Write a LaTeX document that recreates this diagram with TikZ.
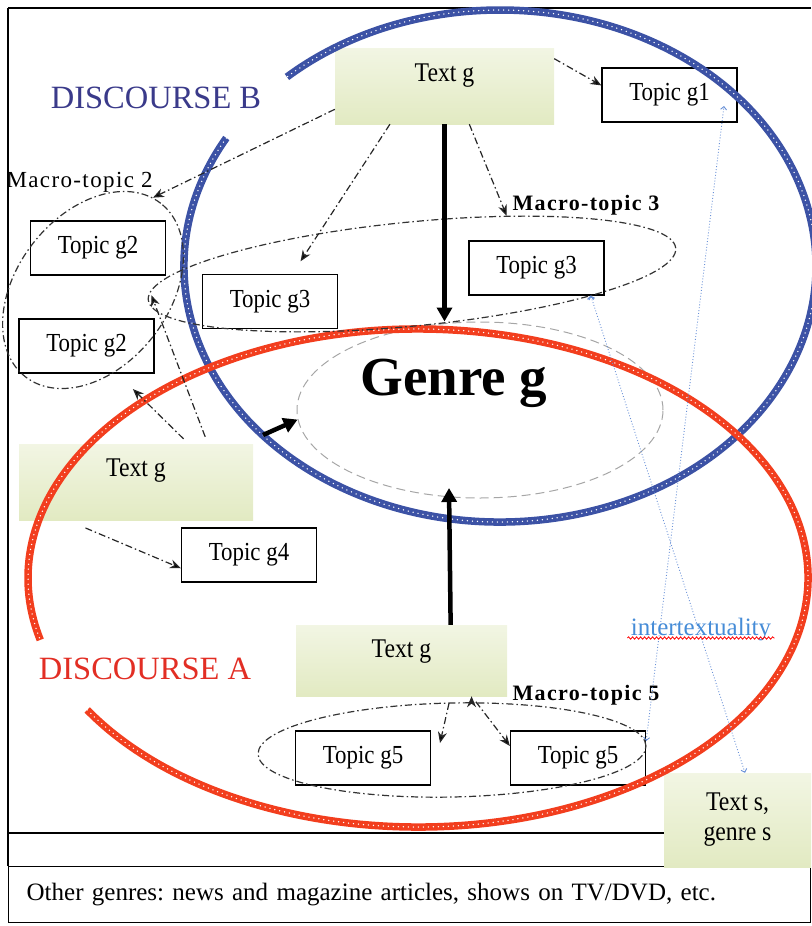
\documentclass[tikz,border=0pt]{standalone}
\usepackage{fontspec}
\setmainfont{Liberation Serif}
\newfontfamily\boxfont[FakeStretch=0.88]{Liberation Serif}
\newfontfamily\macrofont[LetterSpace=6]{Liberation Serif}
\usepackage{tikz}
\usetikzlibrary{arrows.meta,shapes.geometric,decorations.pathmorphing}
\frenchspacing

\definecolor{discB}{RGB}{58,58,138}
\definecolor{discA}{RGB}{226,46,36}
\definecolor{ringB}{RGB}{60,82,165}
\definecolor{ringA}{RGB}{242,62,30}
\definecolor{boxgreen}{RGB}{226,234,194}
\definecolor{linkblue}{RGB}{105,145,215}
\definecolor{itxblue}{RGB}{70,140,215}

\begin{document}
\begin{tikzpicture}[x=1pt,y=-1pt,>={Stealth[length=11pt,width=9pt]},
    ring/.style={line width=7.5pt, draw=#1,
      postaction={draw=white, line width=1.5pt, line cap=round, dash pattern=on 0pt off 5pt}},
    textbox/.style={top color=boxgreen!45, bottom color=boxgreen, inner sep=0pt,
      font=\boxfont\fontsize{27}{30}\selectfont},
    topic/.style={draw, fill=white, line width=1.3pt, inner sep=0pt,
      minimum width=135pt, minimum height=54pt, font=\boxfont\fontsize{26}{30}\selectfont},
    macro/.style={ellipse, draw=black!80, line width=1.2pt, inner sep=0pt,
      dash pattern=on 7pt off 3pt on 1.5pt off 3pt},
    dd/.style={draw=black!85, line width=1.2pt, dash pattern=on 7pt off 3pt on 1.5pt off 3pt},
    bigarrow/.style={line width=4.5pt, -{Triangle[length=14pt,width=15pt]}},
    link/.style={draw=linkblue, line width=0.9pt, dotted,
      {Straight Barb[length=3pt,width=6pt]}-{Straight Barb[length=3pt,width=6pt]}},
    frame/.style={line width=1.3pt}]
  \useasboundingbox (0,0) rectangle (811,926);

  \node[font=\macrofont\fontsize{23}{26}\selectfont, anchor=base west] (m2lab) at (3,187) {Macro-topic 2};

  % frame and bottom box
  \node[draw, frame, anchor=north west, minimum height=56pt, text width=766pt, inner xsep=18pt,
        inner ysep=0pt, align=left, font=\fontsize{25}{28}\selectfont] (other) at (8,866)
        {Other genres: news and magazine articles, shows on TV/DVD, etc.};
  \draw[frame] (8,8) -- (811,8);
  \draw[frame] (8,8) -- (other.north west);
  \draw[frame] (8,833) -- (8,833 -| 664,0);

  % text boxes
  \node[textbox, minimum width=219pt, text height=33pt, text depth=43pt] (tgB) at (444.5,86) {Text g};
  \node[textbox, minimum width=234pt, text height=32pt, text depth=44pt] (tgL) at (136,482) {Text g};
  \node[textbox, minimum width=211pt, text height=32pt, text depth=39pt] (tgA) at (401.5,660.5) {Text g};
  \node[textbox, minimum width=147pt, minimum height=94pt, align=center] (tS) at (737.5,820) {Text s,\\genre s};

  % topics
  \node[topic] (g1)  at (669.5,95)  {Topic g1};
  \node[topic] (g2a) at (98,248)    {Topic g2};
  \node[topic] (g3a) at (270,301.5) {Topic g3};
  \node[topic] (g3b) at (536.5,268) {Topic g3};
  \node[topic] (g2b) at (86.5,346)  {Topic g2};
  \node[topic] (g4)  at (249,555)   {Topic g4};
  \node[topic] (g5a) at (363,758)   {Topic g5};
  \node[topic] (g5b) at (578,758)   {Topic g5};

  % genre
  \node[ellipse, draw=black!35, line width=1pt, dash pattern=on 9pt off 5pt,
        minimum width=366pt, minimum height=176pt] (genre) at (480,410) {};
  \node[font=\bfseries\fontsize{55}{60}\selectfont, anchor=base] (genretext) at (454,395) {Genre g};

  % discourses
  \draw[ring=ringB] (500,266) ++(150:316pt and 256pt)
    arc[start angle=150, end angle=492.4, x radius=316pt, y radius=256pt];
  \draw[ring=ringA] (418,578) ++(212:390pt and 249pt)
    arc[start angle=212, end angle=554.4, x radius=390pt, y radius=249pt];
  \node[text=discB, font=\fontsize{32.5}{36}\selectfont, anchor=base] (discB) at (156,108) {DISCOURSE B};
  \node[text=discA, font=\fontsize{32.5}{36}\selectfont, anchor=base] (discA) at (145,679) {DISCOURSE A};

  % macro-topics
  \node[macro, minimum width=220pt, minimum height=152pt, rotate=52] (m2) at (93,290) {};
  \node[macro, minimum width=530pt, minimum height=104pt, rotate=5.6] (m3) at (412,274) {};
  \node[macro, minimum width=388pt, minimum height=94pt, rotate=1.2] (m5) at (452,750) {};
  \node[font=\macrofont\bfseries\fontsize{22}{26}\selectfont, anchor=base] (m3lab) at (586,210) {Macro-topic 3};
  \node[font=\macrofont\bfseries\fontsize{22}{26}\selectfont, anchor=base] (m5lab) at (586,700) {Macro-topic 5};

  \coordinate (g5ain) at (440,743);
  \coordinate (genrein) at (449,488);
  \coordinate (ltail) at (263,435);
  \coordinate (g1in) at (724,106);

  \path[dd,->]
    (tgB.14)  edge (g1.172)
    (tgB.192) edge (m2.5)
    (tgB.215) edge[shorten >=15pt] (g3a.51)
    (tgB.303) edge (m3.26)
    (tgL.36)  edge[shorten <=7pt, shorten >=22pt] (g2b.-42.5)
    (tgL.28.6) edge[shorten <=7.5pt, shorten >=21pt] (g2a.-31)
    (tgL.209) edge[shorten <=20pt] (g4.191)
    (tgA.-36.2) edge[shorten <=7pt] (g5ain)
    (tgA.-27.4) edge[shorten <=7pt] (g5b.170);

  \draw[bigarrow] (tgB.south) -- (tgB.south |- genre.north);
  \draw[bigarrow] (tgA.36.8) -- (genrein);
  \draw[bigarrow] (ltail) -- (genre.183);

  % intertextuality
  \path[link]
    (g5b.14.8) edge (g1in)
    (g3b.-27.7) edge (tS.81);
  \node[text=itxblue, font=\fontsize{25}{28}\selectfont, anchor=base] (itx) at (701,635) {intertextuality};
  \draw[red, line width=0.8pt, decorate, decoration={snake, amplitude=1.2pt, segment length=4pt}]
    ([yshift=-3pt]itx.base west) -- ([yshift=-3pt]itx.base east);
\end{tikzpicture}
\end{document}
